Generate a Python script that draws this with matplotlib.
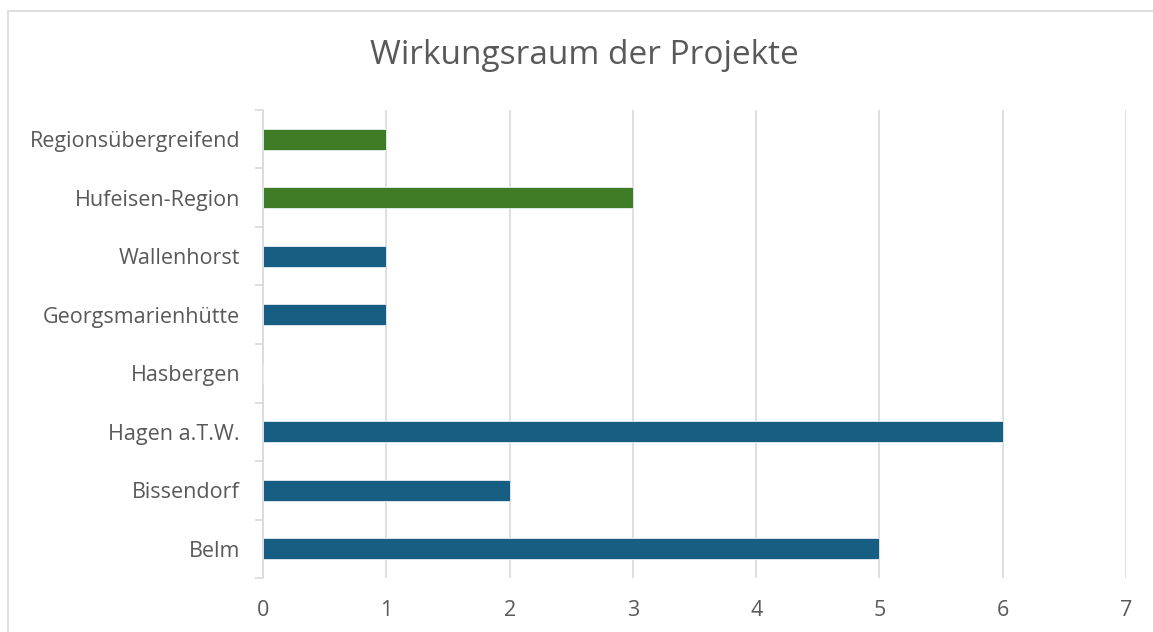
import matplotlib.pyplot as plt
import matplotlib.patches as mpatches
import numpy as np

# Data
categories = ['Belm', 'Bissendorf', 'Hagen a.T.W.', 'Hasbergen',
              'Georgsmarienhütte', 'Wallenhorst', 'Hufeisen-Region',
              'Regionsübergreifend']
values = [5, 2, 6, 0, 1, 1, 3, 1]
groups = ['gemeinde'] * 6 + ['region'] * 2
x_ticks = [0, 1, 2, 3, 4, 5, 6, 7]

group_colors = {'gemeinde': '#175f82', 'region': '#3d7b25'}
text_color = '#595959'
grid_color = '#d9d9d9'

plt.rcParams['font.family'] = ['Open Sans', 'DejaVu Sans']

fig = plt.figure(figsize=(11.53, 6.32), dpi=100)
ax = fig.add_axes([0.2281, 0.0854, 0.7485, 0.7406])

# Outer chart border (extends past right/bottom edges)
fig.patches.append(mpatches.Rectangle((8 / 1153, -0.1), 1.2, (632 - 11) / 632 + 0.1,
                                      transform=fig.transFigure, fill=False,
                                      edgecolor=grid_color, linewidth=1.2))

y = np.arange(len(categories))
colors = [group_colors[g] for g in groups]
ax.barh(y, values, height=0.36, color=colors, edgecolor='#e8eef2', linewidth=0.6, zorder=3)

ax.set_xlim(0, 7)
ax.set_ylim(-0.5, len(categories) - 0.5)
ax.set_xticks(x_ticks)
ax.set_yticks(y)
ax.set_yticklabels(categories)
ax.set_yticks(np.arange(-0.5, len(categories), 1.0), minor=True)

ax.tick_params(axis='x', length=0, labelsize=15.5, labelcolor=text_color, pad=16)
ax.tick_params(axis='y', which='major', length=0, labelsize=15.5, labelcolor=text_color, pad=16.5)
ax.tick_params(axis='y', which='minor', length=6, color=grid_color, width=1.2)

ax.grid(axis='x', color=grid_color, linewidth=1.2, zorder=0)
for side in ['top', 'right', 'bottom']:
    ax.spines[side].set_visible(False)
ax.spines['left'].set_color(grid_color)
ax.spines['left'].set_linewidth(1.2)

fig.text(0.507, 0.912, 'Wirkungsraum der Projekte', ha='center', va='center',
         fontsize=24, color=text_color)

plt.savefig('out.png', dpi=100)
plt.close()
